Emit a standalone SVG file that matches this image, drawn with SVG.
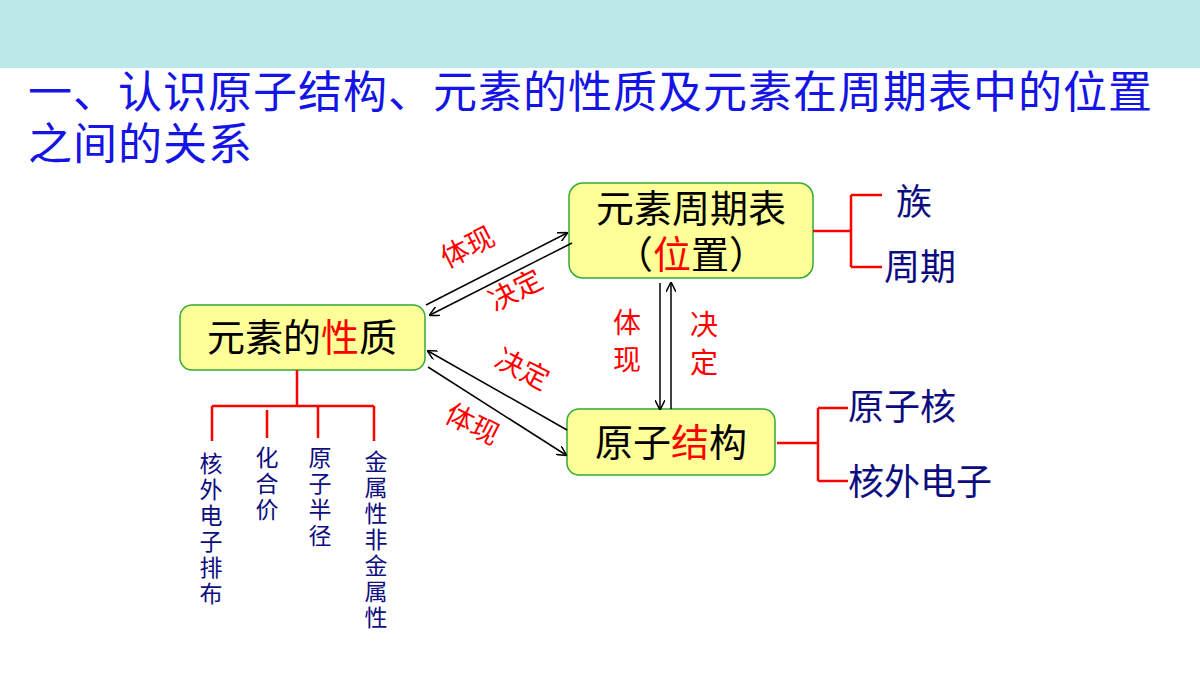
<svg xmlns="http://www.w3.org/2000/svg" width="1200" height="675" viewBox="0 0 1200 675">
<defs>
<marker id="ah" viewBox="0 0 10 10" refX="9" refY="5" markerWidth="10" markerHeight="10" markerUnits="userSpaceOnUse" orient="auto"><path d="M0,0 L10,5 L0,10" fill="none" stroke="#000" stroke-width="1.5"/></marker>
</defs>
<style>
text{font-family:"Liberation Sans","Noto Sans CJK SC",sans-serif}
.box{fill:#ffff99;stroke:#33aa33;stroke-width:1.5}
.bt{font-size:38px;fill:#000;text-anchor:middle}
.r{fill:#ff0000}
.lab{font-size:28px;fill:#ff0000;text-anchor:middle}
.nv{font-size:36px;fill:#0d0d80}
.vt{font-size:23px;fill:#0d0d80;text-anchor:middle}
.br{fill:none;stroke:#ff0000;stroke-width:2.5}
.ar{stroke:#000;stroke-width:1.5;marker-end:url(#ah)}
</style>
<rect x="0" y="0" width="1200" height="68" fill="#bbe8e8"/>
<text x="28" y="108" font-size="44" letter-spacing="1" fill="#1414e6">一、认识原子结构、元素的性质及元素在周期表中的位置</text>
<text x="28" y="160" font-size="44" letter-spacing="1" fill="#1414e6">之间的关系</text>
<g id="n-table"><rect class="box" x="569" y="183" width="244" height="95" rx="14"/>
<text class="bt" x="691" y="222">元素周期表</text><text class="bt" x="691" y="268">（<tspan class="r">位</tspan>置）</text></g>
<g id="n-prop"><rect class="box" x="180" y="305" width="245" height="65" rx="12"/>
<text class="bt" x="302" y="351">元素的<tspan class="r">性</tspan>质</text></g>
<g id="n-struct"><rect class="box" x="567" y="409" width="208" height="66" rx="12"/>
<text class="bt" x="671" y="456">原子<tspan class="r">结</tspan>构</text></g>
<g id="connectors">
<line class="ar" x1="426" y1="305" x2="567" y2="233"/>
<line class="ar" x1="572" y1="243" x2="430" y2="315"/>
<line class="ar" x1="567" y1="430" x2="428" y2="351"/>
<line class="ar" x1="428" y1="367" x2="566" y2="455"/>
<line class="ar" x1="660" y1="283" x2="660" y2="409"/>
<line class="ar" x1="671" y1="409" x2="671" y2="283"/>
<path class="br" d="M813,231 H851 M851,195 V267 M851,195 H882 M851,267 H882"/>
<path class="br" d="M777,443 H818 M818,408 V481 M818,408 H848 M818,481 H848"/>
<path class="br" d="M297,370 V406 M212,406 H374 M212,406 V441 M267,410 V438 M318,406 V438 M374,406 V441"/>
</g>
<g id="labels">
<text class="lab" transform="translate(472,256) rotate(-27)">体现</text>
<text class="lab" transform="translate(520,299) rotate(-27)">决定</text>
<text class="lab" transform="translate(518,378) rotate(27)">决定</text>
<text class="lab" transform="translate(468,433) rotate(27)">体现</text>
<text class="lab" x="627" y="333">体</text><text class="lab" x="627" y="370">现</text>
<text class="lab" x="704" y="335">决</text><text class="lab" x="704" y="373">定</text>
</g>
<g id="leaves">
<text class="nv" x="896" y="215">族</text>
<text class="nv" x="884" y="280">周期</text>
<text class="nv" x="848" y="420">原子核</text>
<text class="nv" x="848" y="495">核外电子</text>
<text class="vt" x="211"><tspan x="211" y="472">核</tspan><tspan x="211" y="498">外</tspan><tspan x="211" y="524">电</tspan><tspan x="211" y="550">子</tspan><tspan x="211" y="576">排</tspan><tspan x="211" y="602">布</tspan></text>
<text class="vt" x="267"><tspan x="267" y="466">化</tspan><tspan x="267" y="492">合</tspan><tspan x="267" y="518">价</tspan></text>
<text class="vt" x="320"><tspan x="320" y="466">原</tspan><tspan x="320" y="492">子</tspan><tspan x="320" y="518">半</tspan><tspan x="320" y="544">径</tspan></text>
<text class="vt" x="376"><tspan x="376" y="470">金</tspan><tspan x="376" y="496">属</tspan><tspan x="376" y="522">性</tspan><tspan x="376" y="548">非</tspan><tspan x="376" y="574">金</tspan><tspan x="376" y="600">属</tspan><tspan x="376" y="626">性</tspan></text>
</g>
</svg>
